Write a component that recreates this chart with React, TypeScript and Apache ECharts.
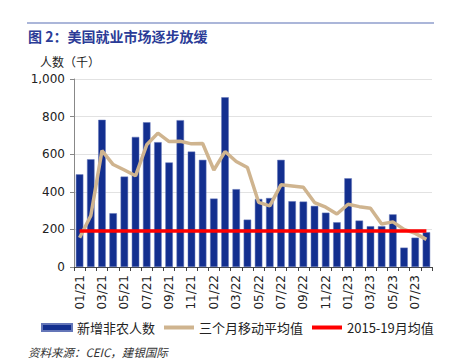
import React, { useEffect, useRef } from "react";
import * as echarts from "echarts";

const categories = [
  "01/21", "02/21", "03/21", "04/21", "05/21", "06/21", "07/21", "08/21", "09/21", "10/21", "11/21", "12/21",
  "01/22", "02/22", "03/22", "04/22", "05/22", "06/22", "07/22", "08/22", "09/22", "10/22", "11/22", "12/22",
  "01/23", "02/23", "03/23", "04/23", "05/23", "06/23", "07/23", "08/23",
];
const payrolls = [
  493, 573, 783, 286, 481, 692, 770, 664, 556, 781, 614, 570,
  364, 903, 414, 252, 362, 367, 570, 350, 348, 325, 289, 238,
  472, 247, 217, 217, 280, 103, 156, 185,
];
const movingAvg = [
  156, 273, 619, 545, 516, 485, 650, 712, 667, 669, 655, 657,
  516, 614, 561, 529, 344, 325, 437, 431, 424, 343, 318, 282,
  334, 321, 312, 229, 240, 200, 179, 147,
];
const avg2015to19 = 192;
const avgLine = categories.map(() => avg2015to19);
const seriesNames = ["新增非农人数", "三个月移动平均值", "2015-19月均值"];
const titleText = "图 2：美国就业市场逐步放缓";
const unitText = "人数（千）";
const sourceText = "资料来源：CEIC，建银国际";

const latin = "'Liberation Sans', 'Noto Sans CJK SC', sans-serif";
const axisFont = "'DejaVu Sans', 'Liberation Sans', sans-serif";
const cjk = "'Noto Sans CJK SC', 'Liberation Sans', sans-serif";
const lineIcon = "path://M0,0 M0,1.5 L30,1.5 L30,5.5 L0,5.5 Z M30,7";

export default function App() {
  const ref = useRef<HTMLDivElement>(null);
  useEffect(() => {
    if (!ref.current) return;
    const chart = echarts.init(ref.current, undefined, { renderer: "svg" });
    chart.setOption({
      animation: false,
      backgroundColor: "#ffffff",
      textStyle: { fontFamily: latin },
      graphic: [
        {
          type: "line",
          shape: { x1: 27, y1: 23, x2: 434, y2: 23 },
          style: { stroke: "#8f9ecd", lineWidth: 1.5 },
        },
        {
          type: "text",
          left: 28,
          top: 29,
          style: { text: titleText, font: `bold 14px ${cjk}`, fill: "#2b3c97" },
        },
        {
          type: "text",
          left: 40,
          top: 55,
          style: { text: unitText, font: `12px ${cjk}`, fill: "#222" },
        },
        {
          type: "text",
          left: 28,
          top: 346,
          style: { text: sourceText, font: `italic 11.5px ${cjk}`, fill: "#333" },
        },
      ],
      grid: { left: 74, right: 18, top: 79, bottom: 96, containLabel: false },
      legend: {
        left: 41,
        top: 321,
        padding: 0,
        itemWidth: 30,
        itemHeight: 7,
        itemGap: 9,
        textStyle: { fontSize: 13, color: "#222", fontFamily: cjk },
        data: [
          { name: seriesNames[0], icon: "rect" },
          { name: seriesNames[1], icon: lineIcon },
          { name: seriesNames[2], icon: lineIcon },
        ],
      },
      xAxis: {
        type: "category",
        data: categories,
        boundaryGap: true,
        axisLine: { lineStyle: { color: "#444", width: 1 } },
        axisTick: { show: true, interval: 0, length: 4, lineStyle: { color: "#444" } },
        axisLabel: { interval: 1, rotate: 90, fontSize: 12, color: "#222", margin: 8, fontFamily: axisFont },
        splitLine: { show: false },
      },
      yAxis: {
        type: "value",
        min: 0,
        max: 1000,
        interval: 200,
        axisLine: { show: true, lineStyle: { color: "#888" } },
        axisTick: { show: true, length: 4, lineStyle: { color: "#888" } },
        axisLabel: {
          fontSize: 12,
          color: "#222",
          margin: 9,
          fontFamily: axisFont,
          formatter: (v: number) => v.toLocaleString("en-US"),
        },
        splitLine: { show: true, lineStyle: { color: "#e2e2e2", width: 1 } },
      },
      series: [
        {
          name: seriesNames[0],
          type: "bar",
          data: payrolls,
          barWidth: "67%",
          itemStyle: { color: "#132f8f", borderColor: "#6476b8", borderWidth: 0.5 },
        },
        {
          name: seriesNames[1],
          type: "line",
          data: movingAvg,
          symbol: "none",
          lineStyle: { color: "#cfb48f", width: 3.5 },
          itemStyle: { color: "#cfb48f" },
        },
        {
          name: seriesNames[2],
          type: "line",
          data: avgLine,
          symbol: "none",
          lineStyle: { color: "#ff0000", width: 3.5 },
          itemStyle: { color: "#ff0000" },
        },
      ],
    });
    return () => chart.dispose();
  }, []);
  return (
    <div
      ref={ref}
      style={{ position: "absolute", left: 0, top: 0, width: 450, height: 363 }}
    />
  );
}
